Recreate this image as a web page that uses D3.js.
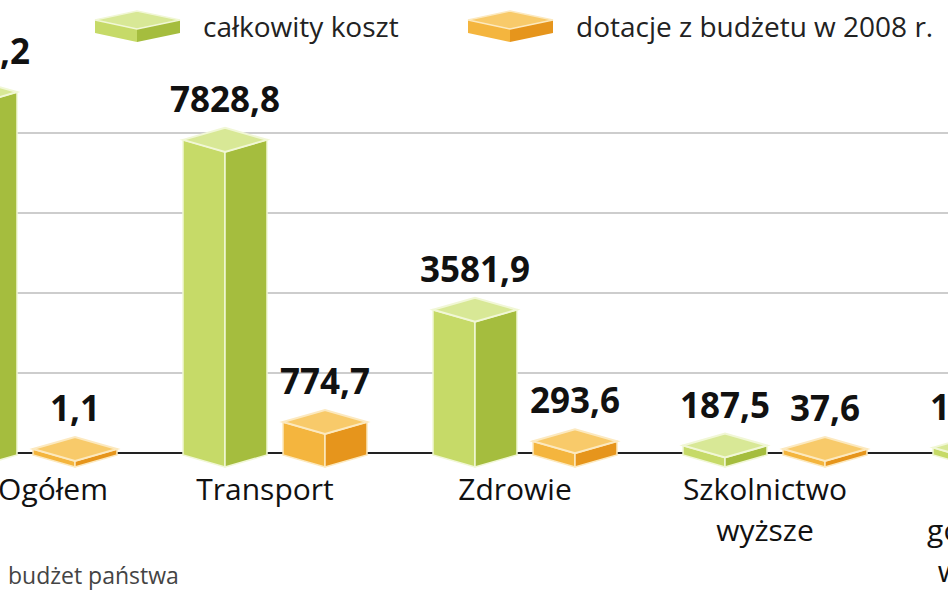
<!DOCTYPE html>
<html><head><meta charset="utf-8">
<script src="https://cdn.jsdelivr.net/npm/d3@7"></script>
<style>body{margin:0;background:#fff}svg{display:block}</style>
</head><body><div id="vis"></div>
<script>
var categories = [['Ogółem'], ['Transport'], ['Zdrowie'], ['Szkolnictwo', 'wyższe'], ['Rozwój', 'gospodarczy', 'w Gdańsku']],
    totalCost = [9023.2, 7828.8, 3581.9, 187.5, 134.5],
    subsidy = [1.1, 774.7, 293.6, 37.6, 20.1],
    gridTicks = [2000, 4000, 6000, 8000],
    seriesNames = ['całkowity koszt', 'dotacje z budżetu w 2008 r.'];

var W = 948, H = 593,
    svg = d3.select('#vis').append('svg').attr('width', W).attr('height', H),
    font = '"Open Sans", Roboto, sans-serif';

var x = d3.scaleLinear().domain([0, 1]).range([25, 275]),   // group index -> group center
    y = d3.scaleLinear().domain([0, 8000]).range([453, 133]),
    hw = 42, dy = 12;

var colors = [
  {left: '#c6da68', right: '#a5bd3e', top: '#d8e896', edge: '#f1f7d6'},
  {left: '#f4b53e', right: '#e6951c', top: '#f8ca6a', edge: '#fce9bf'}
];

var pts = function (a) { return a.map(function (p) { return p.join(','); }).join(' '); };

svg.selectAll('line.grid').data(gridTicks).enter().append('line')
  .attr('x1', 0).attr('x2', W).attr('y1', y).attr('y2', y)
  .attr('stroke', '#bdbdbd').attr('stroke-width', 1.5);
svg.append('line').attr('x1', 0).attr('x2', W).attr('y1', y(0)).attr('y2', y(0))
  .attr('stroke', '#222').attr('stroke-width', 2);

function box(c, v, col) {
  var yb = y(0) + 2, yt = Math.min(y(v), yb - 6), g = svg.append('g');
  g.append('polygon').attr('points', pts([[c - hw, yt], [c, yt + dy], [c, yb + dy], [c - hw, yb]]))
    .attr('fill', col.left).attr('stroke', col.edge).attr('stroke-width', 1.5);
  g.append('polygon').attr('points', pts([[c, yt + dy], [c + hw, yt], [c + hw, yb], [c, yb + dy]]))
    .attr('fill', col.right).attr('stroke', col.edge).attr('stroke-width', 1.5);
  g.append('polygon').attr('points', pts([[c - hw, yt], [c, yt - dy], [c + hw, yt], [c, yt + dy]]))
    .attr('fill', col.top).attr('stroke', col.edge).attr('stroke-width', 2);
  g.append('text').attr('x', c).attr('y', yt - dy - 16).attr('text-anchor', 'middle')
    .attr('font-family', font).attr('font-weight', 700).attr('font-size', 35).attr('fill', '#111')
    .text(d3.format('.1f')(v).replace('.', ','));
}

categories.forEach(function (cat, i) {
  var gc = x(i), lx = i === 0 ? gc + 28 : gc - 10;
  box(gc - 50, totalCost[i], colors[0]);
  box(gc + 50, subsidy[i], colors[1]);
  var t = svg.append('text').attr('text-anchor', 'middle').attr('font-family', font)
    .attr('font-size', 30).attr('fill', '#111');
  cat.forEach(function (line, j) {
    t.append('tspan').attr('x', lx).attr('y', 500 + j * 41).text(line);
  });
});

// legend
seriesNames.forEach(function (name, i) {
  var lx = 95 + i * 373, col = colors[i], yt = 20;
  svg.append('polygon').attr('points', pts([[lx, yt], [lx + 42, yt + 9], [lx + 42, yt + 22], [lx, yt + 13]])).attr('fill', col.left);
  svg.append('polygon').attr('points', pts([[lx + 42, yt + 9], [lx + 85, yt], [lx + 85, yt + 13], [lx + 42, yt + 22]])).attr('fill', col.right);
  svg.append('polygon').attr('points', pts([[lx, yt], [lx + 42, yt - 9], [lx + 85, yt], [lx + 42, yt + 9]]))
    .attr('fill', col.top).attr('stroke', col.edge).attr('stroke-width', 1.5);
  svg.append('text').attr('x', lx + 108).attr('y', 37).attr('font-family', font)
    .attr('font-size', 28).attr('fill', '#222').text(name);
});

svg.append('text').attr('x', 8).attr('y', 584).attr('font-family', font)
  .attr('font-size', 23).attr('fill', '#444').text('budżet państwa');
</script></body></html>
